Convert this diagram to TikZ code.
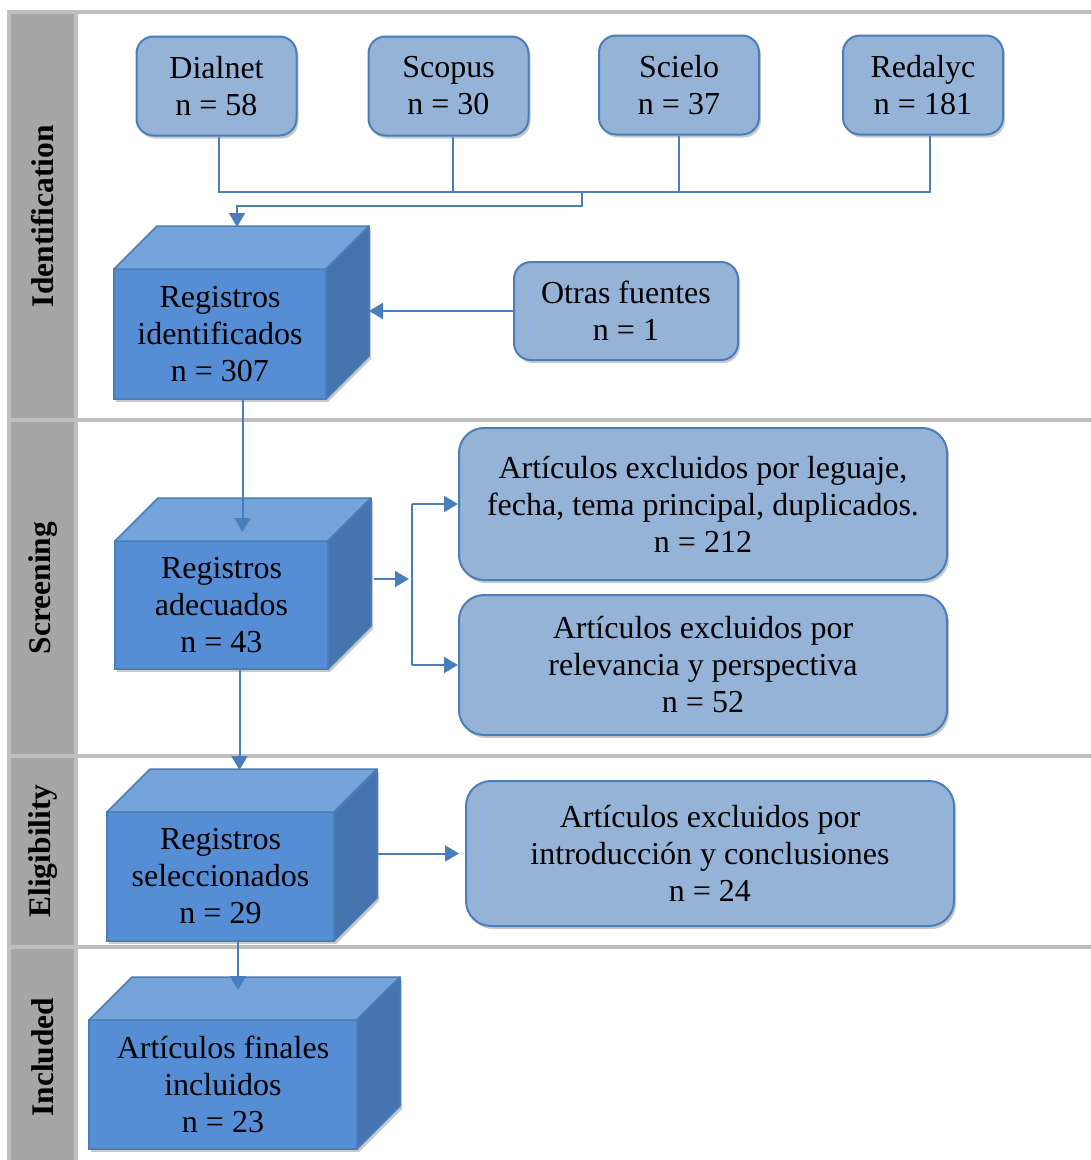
\documentclass[tikz,border=0pt]{standalone}
\usepackage{fontspec}
\setmainfont{Liberation Serif}
\usetikzlibrary{arrows.meta,positioning,shadows}
\definecolor{prismaline}{RGB}{74,126,187}
\definecolor{prismabox}{RGB}{149,179,215}
\definecolor{cubefront}{RGB}{85,142,213}
\definecolor{cubetop}{RGB}{117,164,219}
\definecolor{cubeside}{RGB}{69,116,176}
\definecolor{bandlight}{RGB}{191,191,191}
\definecolor{banddark}{RGB}{166,166,166}

% top and right faces of a cuboid, behind a front node
\newcommand{\cubefaces}[1]{%
  \path (#1.north west) ++(43,-43) coordinate (#1-tl);
  \path (#1.north east) ++(43,-43) coordinate (#1-tr);
  \path (#1.south east) ++(43,-43) coordinate (#1-br);
  \draw[face, fill=cubetop] (#1.north west) -- (#1-tl) -- (#1-tr) -- (#1.north east) -- cycle;
  \draw[face, fill=cubeside, softshadow] (#1.north east) -- (#1-tr) -- (#1-br) -- (#1.south east) -- cycle;
}

\begin{document}
\begin{tikzpicture}[
  x=1pt, y=-1pt,
  font=\fontsize{32}{37}\selectfont,
  softshadow/.style={drop shadow={shadow xshift=2pt, shadow yshift=-3pt, opacity=.3, fill=black!70}},
  src/.style={draw=prismaline, line width=2pt, fill=prismabox, rounded corners=17pt,
              align=center, minimum width=160pt, minimum height=99pt, softshadow},
  excl/.style={src, rounded corners=25pt, minimum width=488pt},
  cube/.style={draw=prismaline, line width=1.5pt, fill=cubefront, align=center,
               outer sep=0pt, minimum height=129pt, softshadow},
  face/.style={draw=prismaline, line width=1.5pt, line join=round},
  phase/.style={rotate=90, font=\fontsize{31.5}{36}\selectfont\bfseries},
  link/.style={line width=2pt, draw=prismaline},
  arr/.style={link, -{Triangle[width=16pt, length=14pt]}}
]
\useasboundingbox (0,0) rectangle (1091,1160);

% frame and phase column
\fill[bandlight] (7,10) rectangle (78,1160);
\fill[bandlight] (7,10) rectangle (1091,14);
\foreach \y in {418,754,945}
  \fill[bandlight] (7,\y) rectangle (1091,\y+4);
\foreach \top/\bot in {14/418,422/754,758/945,949/1160}
  \fill[banddark] (11,\top) rectangle (74,\bot);

\node[phase] (pid)  at (43,216)  {Identification};
\node[phase] (pscr) at (43,588)  {Screening};
\node[phase] (pel)  at (43,851)  {Eligibility};
\node[phase] (pinc) at (43,1057) {Included};

% sources
\node[src] (dial) at (216.5,86) {Dialnet\\n = 58};
\node[src] (scop) at (448.5,86) {Scopus\\n = 30};
\node[src] (sci)  at (679,85)   {Scielo\\n = 37};
\node[src] (red)  at (923,85)   {Redalyc\\n = 181};
\node[src, minimum width=224pt, minimum height=98pt] (otras) at (626,311) {Otras fuentes\\n = 1};

% records
\node[cube, minimum width=212pt, minimum height=130pt] (regid) at (220,334) {Registros\\identificados\\n = 307};
\cubefaces{regid}
\node[cube, minimum width=213pt, minimum height=128pt] (regad) at (221.5,605) {Registros\\adecuados\\n = 43};
\cubefaces{regad}
\node[cube, minimum width=227pt] (regsel) at (220.5,876.5) {Registros\\seleccionados\\n = 29};
\cubefaces{regsel}
\node[cube, minimum width=268pt] (artfin) at (223,1084.5) {Artículos finales\\incluidos\\n = 23};
\cubefaces{artfin}

% exclusions
\node[excl, minimum height=152pt] (excl1) at (703,504) {Artículos excluidos por leguaje,\\fecha, tema principal, duplicados.\\n = 212};
\node[excl, minimum height=140pt] (excl2) at (703,665) {Artículos excluidos por\\relevancia y perspectiva\\n = 52};
\node[excl, minimum height=145pt] (excl3) at (710,853.5) {Artículos excluidos por\\introducción y conclusiones\\n = 24};

% connectors
\coordinate (bus) at (0,192);
\coordinate (merge) at (582,192);
\draw[link] ([xshift=2pt]dial.south) |- ([xshift=7pt]red.south |- bus) -- ([xshift=7pt]red.south);
\draw[link] ([xshift=4pt]scop.south) -- ([xshift=4pt]scop.south |- bus);
\draw[link] (sci.south) -- (sci.south |- bus);
\draw[arr] (merge) -- ++(0,14) -| ([shift={(17,-42)}]regid.north);

\draw[arr] (otras.west) -- (otras.west -| regid-br);

\path ([shift={(21,-9)}]regad.north) coordinate (t1);
\draw[arr] (regid.south -| t1) -- (t1);

\coordinate (split) at (412,579);
\draw[arr, shorten <=3pt, shorten >=3pt] (split -| regad-br) -- (split);
\draw[link] (split |- excl1.west) -- (split |- excl2.west);
\draw[arr] (split |- excl1.west) -- (excl1.west);
\draw[arr] (split |- excl2.west) -- (excl2.west);

\path ([shift={(19,-42)}]regsel.north) coordinate (t2);
\draw[arr] (regad.south -| t2) -- (t2);

\draw[arr, shorten >=6pt] (excl3.west -| regsel-br) -- (excl3.west);

\path ([shift={(15,-30)}]artfin.north) coordinate (t3);
\draw[arr] (regsel.south -| t3) -- (t3);
\end{tikzpicture}
\end{document}
